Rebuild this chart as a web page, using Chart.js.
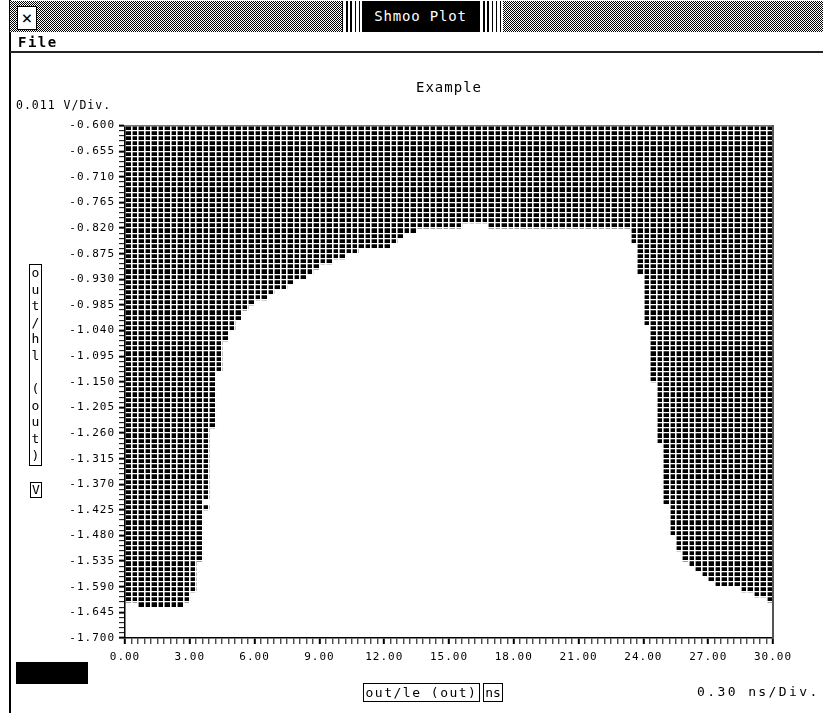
<!DOCTYPE html>
<html>
<head>
<meta charset="utf-8">
<title>Shmoo Plot</title>
<script src="https://cdn.jsdelivr.net/npm/chart.js@4.4.1/dist/chart.umd.min.js"></script>
<style>
  html, body { margin: 0; padding: 0; background: #fff; }
  body { width: 823px; height: 713px; position: relative; overflow: hidden;
         font-family: "DejaVu Sans Mono", monospace; color: #000; }
  #plot { position: absolute; left: 0; top: 0; }
  .abs { position: absolute; box-sizing: border-box; }
  #frame { left: 9px; top: 0; width: 1.5px; height: 713px; background: #000; }
  #titlebar { left: 10px; top: 1px; width: 813px; height: 31px;
              background: repeating-conic-gradient(#000 0 25%, #fff 0 50%) 0 0 / 2px 2px; }
  #closebox { left: 17px; top: 6px; width: 20px; height: 24px; background: #fff; border: 1px solid #000;
              font-size: 18px; line-height: 21px; text-align: center; }
  .stripes { top: 1px; height: 31px;
             background: repeating-linear-gradient(90deg, #000 0 1.5px, #fff 1.5px 4.2px); }
  #wintitle { left: 362px; top: 1px; width: 117px; height: 31px; background: #000; color: #fff;
              font-size: 14px; line-height: 31px; text-align: center; letter-spacing: 0.8px; }
  #menubar { left: 10px; top: 33px; width: 813px; height: 20px; border-bottom: 2px solid #222; }
  #menubar span { position: absolute; left: 8px; top: 1px; font-weight: bold; font-size: 14px; letter-spacing: 1.5px; }
  #ylabel { left: 29px; top: 264px; width: 13px; height: 202px; border: 1px solid #000;
            font-size: 13px; line-height: 16.6px; text-align: center; white-space: pre; }
  #vunit { left: 30px; top: 482px; width: 12px; height: 16px; border: 1px solid #000;
           font-size: 13px; line-height: 14px; text-align: center; }
  #blackbox { left: 16px; top: 662px; width: 72px; height: 22px; background: #000; }
  #xlabel { left: 363px; top: 683px; width: 117px; height: 19px; border: 1px solid #000;
            font-size: 13px; line-height: 17px; text-align: center; letter-spacing: 1.5px; }
  #xunit { left: 483px; top: 683px; width: 20px; height: 19px; border: 1px solid #000;
           font-size: 13px; line-height: 17px; text-align: center; }
  #xdiv { left: 697px; top: 683px; font-size: 13px; line-height: 17px; letter-spacing: 2.4px; white-space: pre; }
</style>
</head>
<body>
<canvas id="plot" width="823" height="713"></canvas>
<div class="abs" id="frame"></div>
<div class="abs" id="titlebar"></div>
<div class="abs" id="closebox">×</div>
<div class="abs stripes" style="left:342px;width:20px"></div>
<div class="abs" id="wintitle">Shmoo Plot</div>
<div class="abs stripes" style="left:479px;width:24px"></div>
<div class="abs" id="menubar"><span>File</span></div>
<div class="abs" id="ylabel">o
u
t
/
h
l
 
(
o
u
t
)</div>
<div class="abs" id="vunit">V</div>
<div class="abs" id="blackbox"></div>
<div class="abs" id="xlabel">out/le (out)</div>
<div class="abs" id="xunit">ns</div>
<div class="abs" id="xdiv">0.30 ns/Div.</div>

<script>
// sweep settings, as printed on the plot
const stepNs = 0.30;      // 0.30 ns/Div.
const stepV = 0.011;      // 0.011 V/Div.
const timeMin = 0;
const timeMax = 30;
const voltTop = -0.600;
const voltBottom = -1.700;

// for each 0.30 ns column: the voltage down to which the cells fail (black)
const failBoundaryV = [
  -1.623, -1.623, -1.634, -1.634, -1.634, -1.634, -1.634, -1.634, -1.634, -1.623,
  -1.601, -1.535, -1.403, -1.249, -1.128, -1.062, -1.040, -1.018, -0.996, -0.985,
  -0.974, -0.974, -0.963, -0.952, -0.952, -0.941, -0.930, -0.930, -0.919, -0.908,
  -0.897, -0.897, -0.886, -0.886, -0.875, -0.875, -0.864, -0.864, -0.864, -0.864,
  -0.864, -0.853, -0.842, -0.831, -0.831, -0.820, -0.820, -0.820, -0.820, -0.820,
  -0.820, -0.820, -0.809, -0.809, -0.809, -0.809, -0.820, -0.820, -0.820, -0.820,
  -0.820, -0.820, -0.820, -0.820, -0.820, -0.820, -0.820, -0.820, -0.820, -0.820,
  -0.820, -0.820, -0.820, -0.820, -0.820, -0.820, -0.820, -0.820, -0.853, -0.919,
  -1.029, -1.150, -1.282, -1.414, -1.480, -1.513, -1.535, -1.546, -1.557, -1.568,
  -1.579, -1.590, -1.590, -1.590, -1.590, -1.601, -1.601, -1.612, -1.612, -1.623
];

// the lone failing cell below the edge near 3.75 ns
const islandTimeNs = [3.75];
const islandTopV = [-1.414];
const islandBottomV = [-1.425];

const xTickLabels = ['0.00', '3.00', '6.00', '9.00', '12.00', '15.00', '18.00', '21.00', '24.00', '27.00', '30.00'];
const yTickLabels = ['-0.600', '-0.655', '-0.710', '-0.765', '-0.820', '-0.875', '-0.930', '-0.985', '-1.040',
  '-1.095', '-1.150', '-1.205', '-1.260', '-1.315', '-1.370', '-1.425', '-1.480', '-1.535', '-1.590', '-1.645', '-1.700'];

const nCols = failBoundaryV.length;
const nRows = Math.round((voltTop - voltBottom) / stepV);

let mainBars = [];
for (let i = 0; i < nCols; i++) {
  mainBars.push({ x: timeMin + (i + 0.5) * stepNs, y: [voltTop, failBoundaryV[i]] });
}
let islandBars = [];
for (let i = 0; i < islandTimeNs.length; i++) {
  islandBars.push({ x: islandTimeNs[i], y: [islandTopV[i], islandBottomV[i]] });
}

// old X fonts are wide, so spread the canvas text a little
const spacing = {
  id: 'spacing',
  beforeLayout(chart) { chart.ctx.letterSpacing = '1px'; },
  beforeDraw(chart) { chart.ctx.letterSpacing = '1px'; }
};

Chart.defaults.font.family = '"DejaVu Sans Mono", monospace';
Chart.defaults.color = '#000';

const canvas = document.getElementById('plot');
new Chart(canvas, {
  type: 'bar',
  data: {
    datasets: [{
      label: 'fail',
      data: mainBars,
      backgroundColor: '#000',
      borderWidth: 0,
      barPercentage: 1,
      categoryPercentage: 1,
      grouped: false
    }, {
      label: 'fail (island)',
      data: islandBars,
      backgroundColor: '#000',
      borderWidth: 0,
      barPercentage: 1,
      categoryPercentage: 1,
      grouped: false
    }]
  },
  options: {
    responsive: false,
    animation: false,
    events: [],
    layout: { padding: { left: 16, right: 50, top: 78, bottom: 0 } },
    plugins: {
      legend: { display: false },
      tooltip: { enabled: false },
      title: {
        display: true, text: 'Example', fullSize: false,
        font: { size: 14, weight: 'normal' }, padding: { top: 2, bottom: 0 }
      },
      subtitle: {
        display: true, text: '0.011 V/Div.', align: 'start',
        font: { size: 11.5, weight: 'normal' }, padding: { top: 2, bottom: 13 }
      }
    },
    scales: {
      x: {
        type: 'linear', position: 'bottom', min: timeMin, max: timeMax, offset: false,
        afterBuildTicks: (s) => {
          let t = [];
          for (let i = 0; i <= nCols; i++) t.push({ value: timeMin + i * stepNs });
          s.ticks = t;
        },
        ticks: {
          autoSkip: false, maxRotation: 0, minRotation: 0, padding: 7,
          font: { size: 11 },
          callback: (v, i) => (i % 10 === 0 ? xTickLabels[i / 10] : '')
        },
        grid: {
          offset: false, z: 1, color: '#fff', lineWidth: 1.6,
          tickLength: 6, tickColor: '#000',
          tickWidth: (c) => (c.index % 10 === 0 ? 2 : 1)
        },
        border: { color: '#000', width: 1.5, z: 2 },
        afterFit: (s) => { s.height = 75; }
      },
      y: {
        type: 'linear', position: 'left', min: voltBottom, max: voltTop,
        afterBuildTicks: (s) => {
          let t = [];
          for (let i = 0; i <= nRows; i++) t.push({ value: voltBottom + i * stepV });
          s.ticks = t;
        },
        ticks: {
          autoSkip: false, padding: 4,
          font: { size: 11 },
          callback: (v, i) => (i % 5 === 0 ? yTickLabels[(nRows - i) / 5] : '')
        },
        grid: {
          z: 1, color: '#fff', lineWidth: 1.3,
          tickLength: 6, tickColor: '#000',
          tickWidth: (c) => (c.index % 5 === 0 ? 2 : 1)
        },
        border: { color: '#000', width: 1.5, z: 2 },
        afterFit: (s) => { s.width = 109; }
      },
      xTop: {
        type: 'linear', position: 'top', min: timeMin, max: timeMax,
        ticks: { display: false },
        grid: { display: false, drawTicks: false },
        border: { color: '#777', width: 1.5, z: 2 },
        afterFit: (s) => { s.height = 0; }
      },
      yRight: {
        type: 'linear', position: 'right', min: voltBottom, max: voltTop,
        ticks: { display: false },
        grid: { display: false, drawTicks: false },
        border: { color: '#555', width: 2, z: 2 },
        afterFit: (s) => { s.width = 0; }
      }
    }
  },
  plugins: [spacing]
});
</script>
</body>
</html>
